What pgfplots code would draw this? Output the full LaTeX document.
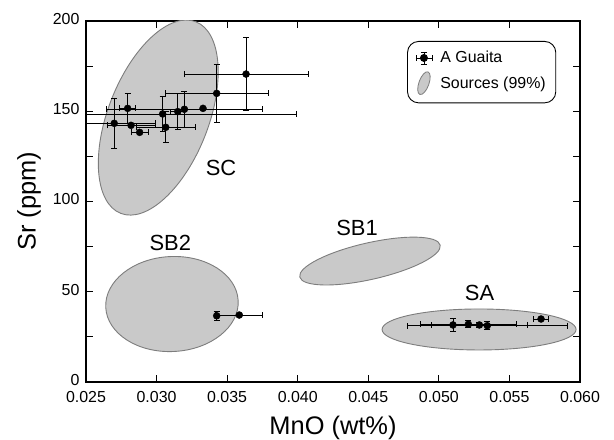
\documentclass[border=0pt]{standalone}
\usepackage{pgfplots}
\pgfplotsset{compat=1.18}
\usepackage{fontspec}
\setmainfont{Liberation Sans}
\definecolor{ellfill}{RGB}{201,201,201}
\definecolor{elledge}{RGB}{125,125,125}

\pgfplotstableread{
x        y      ex       ey
0.02700  143.3  0.0029   13.9
0.02795  151.6  0.00055  8.3
0.02819  142.2  0.0017   0
0.02880  138.3  0.0006   0
0.03043  148.5  0.0095   9.8
0.03065  141.1  0.0021   8.6
0.03150  149.8  0.0005   10
0.03197  151.1  0.0055   9.9
0.03329  151.6  0        0
0.03426  159.9  0.00364  16
0.03634  170.6  0.0044   20.3
0.03426  36.7   0.0001   2.5
0.03586  37.1   0.00166  0
0.05100  31.6   0        3.7
0.05209  32.0   0.00342  2
0.05287  31.6   0.00337  1.5
0.05343  31.2   0.00567  2.3
0.05724  34.9   0.00053  0
}\guaita

\begin{document}
\begin{tikzpicture}
\useasboundingbox (-86bp,-58bp) rectangle (528bp,382bp);
\begin{axis}[
    at={(0,0)}, anchor=south west,
    scale only axis,
    width=494bp, height=361bp,
    xmin=0.025, xmax=0.060,
    ymin=0, ymax=200,
    xtick={0.025,0.030,0.035,0.040,0.045,0.050,0.055,0.060},
    ytick={0,50,100,150,200},
    minor ytick={25,75,125,175},
    x tick label style={yshift=-6bp, /pgf/number format/.cd, fixed, fixed zerofill, precision=3},
    y tick label style={xshift=-3bp, yshift=2bp},
    scaled x ticks=false,
    /pgf/number format/assume math mode=true,
    tick label style={font=\fontsize{16}{18}\selectfont},
    tick align=inside,
    major tick length=7bp,
    minor tick length=7bp,
    axis line style={line width=1.1bp},
    tick style={line width=1bp, black},
    every axis x label/.style={at={(rel axis cs:0.5,0)}, yshift=-46bp, anchor=center},
    every axis y label/.style={at={(rel axis cs:0,0.5)}, xshift=-57bp, rotate=90, anchor=center},
    label style={font=\fontsize{25.5}{28}\selectfont},
    xlabel={MnO (wt\%)},
    ylabel={Sr (ppm)},
    legend style={at={(0.650,0.9446)}, anchor=north west, draw=black, line width=0.9bp,
        rounded corners=11bp, font=\fontsize{16}{19}\selectfont,
        inner xsep=8bp, inner ysep=8bp, row sep=5bp, column sep=6bp, cells={anchor=west}},
    legend cell align=left,
]
% source ellipses (99%)
\draw[fill=ellfill, draw=elledge, line width=0.9bp] (axis cs:0.03012,146.5) circle [x radius=102.9bp, y radius=50.2bp, rotate=68.6];
\draw[fill=ellfill, draw=elledge, line width=0.9bp] (axis cs:0.03109,43.2) circle [x radius=66.3bp, y radius=47.5bp, rotate=3];
\draw[fill=ellfill, draw=elledge, line width=0.9bp] (axis cs:0.04512,67.0) circle [x radius=72bp, y radius=18.3bp, rotate=12.8];
\draw[fill=ellfill, draw=elledge, line width=0.9bp] (axis cs:0.05285,29.1) circle [x radius=97bp, y radius=20.5bp, rotate=0];

\addplot[only marks, mark=*, mark size=3.5bp, black,
    error bars/.cd, x dir=both, x explicit, y dir=both, y explicit,
    error bar style={line width=0.8bp, black},
    error mark options={rotate=90, line width=0.8bp, mark size=3bp, black},
    ] table[x=x, y=y, x error=ex, y error=ey] {\guaita};
\addlegendimage{legend image code/.code={
    \draw[line width=0.8bp] (0bp,0bp) -- (16bp,0bp);
    \draw[line width=0.8bp] (0bp,-3bp) -- (0bp,3bp);
    \draw[line width=0.8bp] (16bp,-3bp) -- (16bp,3bp);
    \draw[line width=0.8bp] (8bp,-6bp) -- (8bp,6bp);
    \draw[line width=0.8bp] (5bp,-6bp) -- (11bp,-6bp);
    \draw[line width=0.8bp] (5bp,6bp) -- (11bp,6bp);
    \fill (8bp,0bp) circle (3.5bp);}}
\addlegendimage{legend image code/.code={
    \draw[fill=ellfill, draw=elledge, line width=0.8bp] (8bp,0bp) circle [x radius=5bp, y radius=12bp, rotate=-20];}}
\legend{,A Guaita,Sources (99\%)}

\node[font=\fontsize{22}{24}\selectfont] at (axis cs:0.03457,118.6) {SC};
\node[font=\fontsize{22}{24}\selectfont] at (axis cs:0.03097,77.0) {SB2};
\node[font=\fontsize{22}{24}\selectfont] at (axis cs:0.04420,85.3) {SB1};
\node[font=\fontsize{22}{24}\selectfont] at (axis cs:0.05288,49.1) {SA};
\end{axis}
\end{tikzpicture}
\end{document}
